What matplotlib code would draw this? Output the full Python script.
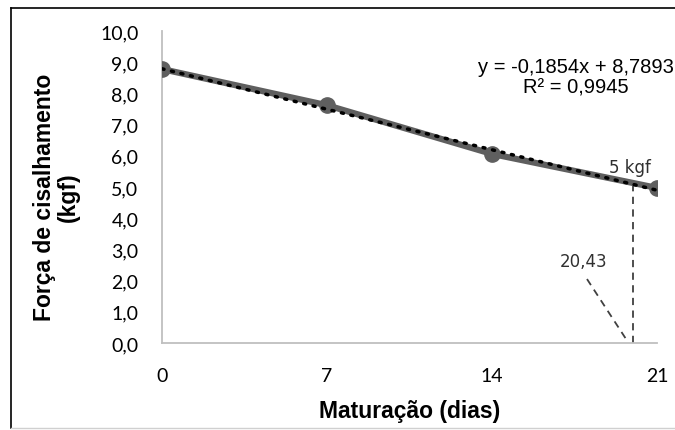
import numpy as np
import matplotlib.pyplot as plt
from matplotlib.lines import Line2D

# data
dias = [0, 7, 14, 21]
forca = [8.78, 7.62, 6.06, 4.97]
y_ticks = [0, 1, 2, 3, 4, 5, 6, 7, 8, 9, 10]
x_ticks = [0, 7, 14, 21]
slope, intercept = -0.1854, 8.7893
x_5kgf = 19.98   # where the dashed guide is drawn

fig = plt.figure(figsize=(6.75, 4.31), dpi=100)
ax = fig.add_axes([162/675, 1 - 344/431, (657-162)/675, (344-32)/431])

# trend line (dotted) and the data series
xt = np.array([0, 21])
ax.plot(xt, slope*xt + intercept, color='black', ls=(0, (0.6, 2.2)), lw=2.5, zorder=4,
        dash_capstyle='round')
ax.plot(dias, forca, color='#5f5f5f', lw=4.5, marker='o', ms=11, zorder=3,
        solid_capstyle='round')

# guide lines
ax.plot([x_5kgf, x_5kgf], [0, 5.03], color='#404040', ls=(0, (4, 3)), lw=1.3, zorder=2)
ax.plot([18.03, 19.77], [2.05, 0.03], color='#404040', ls=(0, (4, 3)), lw=1.3, zorder=2)
ax.text(17.9, 2.63, '20,43', fontsize=12, color='#303030', ha='center', va='center',
        family='DejaVu Sans')
ax.text(19.85, 5.64, '5 kgf', fontsize=12, color='#303030', ha='center', va='center',
        family='DejaVu Sans')

ax.text(17.55, 8.53, 'y = -0,1854x + 8,7893\nR² = 0,9945', fontsize=14.5,
        family='Liberation Sans', ha='center', va='center', linespacing=1.15,
        multialignment='center', clip_on=False)

ax.set_xlim(0, 21)
ax.set_ylim(0, 10)
ax.set_xticks(x_ticks)
ax.set_xticklabels([str(v) for v in x_ticks], family='Lato', fontsize=14)
ax.set_yticks(y_ticks)
ax.set_yticklabels([f'{v:.1f}'.replace('.', ',') for v in y_ticks], family='Lato', fontsize=14)
ax.tick_params(length=0)
ax.tick_params(axis='y', pad=17)
ax.tick_params(axis='x', pad=17)
for s in ['top', 'right']:
    ax.spines[s].set_visible(False)
for s in ['left', 'bottom']:
    ax.spines[s].set_color('#bfbfbf')
    ax.spines[s].set_linewidth(1.3)

ax.set_xlabel('Maturação (dias)', family='Liberation Sans', weight='bold', fontsize=16.5)
ax.xaxis.set_label_coords(0.5, -0.18)
ax.set_ylabel('Força de cisalhamento\n(kgf)', family='Liberation Sans', weight='bold',
              fontsize=16.5, linespacing=1.05)
ax.yaxis.set_label_coords(-0.166, 0.47)

# frame around the figure
fig.add_artist(Line2D([11/675, 11/675], [2/431, 1 - 9/431], color='black', lw=1.2,
                      transform=fig.transFigure))
fig.add_artist(Line2D([11/675, 1], [1 - 9/431, 1 - 9/431], color='black', lw=1.2,
                      transform=fig.transFigure))
fig.add_artist(Line2D([11/675, 1], [2/431, 2/431], color='#d0d0d0', lw=1.0,
                      transform=fig.transFigure))

fig.savefig('out.png', dpi=100)
